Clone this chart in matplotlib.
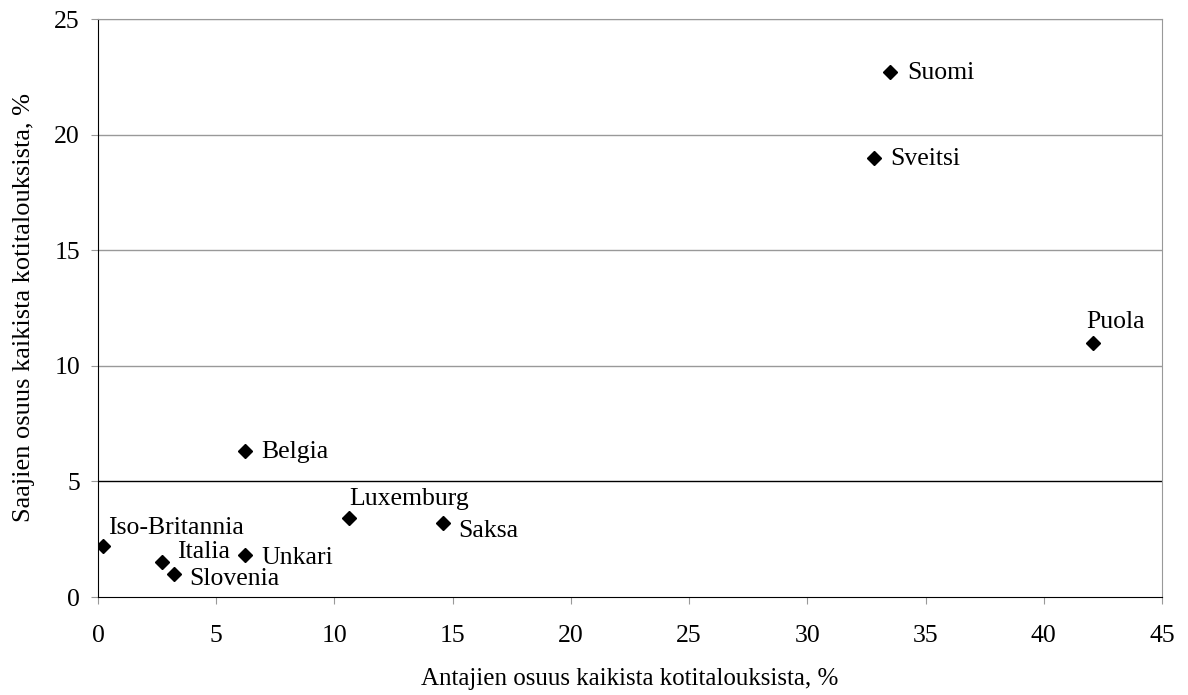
import matplotlib.pyplot as plt

countries = ["Suomi", "Sveitsi", "Puola", "Belgia", "Luxemburg", "Saksa",
             "Iso-Britannia", "Italia", "Slovenia", "Unkari"]
givers = [33.5, 32.8, 42.1, 6.2, 10.6, 14.6, 0.2, 2.7, 3.2, 6.2]
receivers = [22.7, 19.0, 11.0, 6.3, 3.4, 3.2, 2.2, 1.5, 1.0, 1.8]

# label offsets in pixels (dx, dy, ha, va)
offsets = {
    "Suomi": (17, -1, "left", "center"),
    "Sveitsi": (17, -1, "left", "center"),
    "Puola": (-7, 10, "left", "bottom"),
    "Belgia": (17, -1, "left", "center"),
    "Luxemburg": (1, 8, "left", "bottom"),
    "Saksa": (15, -8, "left", "center"),
    "Iso-Britannia": (5, 18, "left", "center"),
    "Italia": (15, 10, "left", "center"),
    "Slovenia": (16, -5, "left", "center"),
    "Unkari": (17, -3, "left", "center"),
}

plt.rcParams['font.family'] = ['Liberation Serif', 'DejaVu Serif']
plt.rcParams['font.size'] = 18.5

fig = plt.figure(figsize=(11.88, 6.95), dpi=100)
ax = fig.add_axes([98 / 1188, 1 - 597 / 695, (1162 - 98) / 1188, (597 - 19) / 695])

for y in [10, 15, 20, 25]:
    ax.axhline(y, color="#999999", lw=1.0, zorder=0)
ax.axhline(5, color="black", lw=1.0, zorder=0)

ax.plot(givers, receivers, "D", color="black", ms=7, ls="none", zorder=3)
for name, x, y in zip(countries, givers, receivers):
    dx, dy, ha, va = offsets[name]
    ax.annotate(name, (x, y), xytext=(dx, dy), textcoords="offset pixels",
                ha=ha, va=va)

ax.set_xlim(0, 45)
ax.set_ylim(0, 25)
ax.set_xticks(range(0, 46, 5))
ax.set_yticks(range(0, 26, 5))
ax.spines["left"].set_color("black")
ax.spines["bottom"].set_color("black")
ax.spines["top"].set_color("#999999")
ax.spines["right"].set_color("#999999")
ax.tick_params(direction="out", length=5, color="#999999", pad=8)
ax.tick_params(axis="x", pad=15)

ax.set_xlabel("Antajien osuus kaikista kotitalouksista, %", labelpad=15, fontsize=18)
ax.set_ylabel("Saajien osuus kaikista kotitalouksista, %", labelpad=14, fontsize=19)

fig.savefig("out.png", dpi=100)
